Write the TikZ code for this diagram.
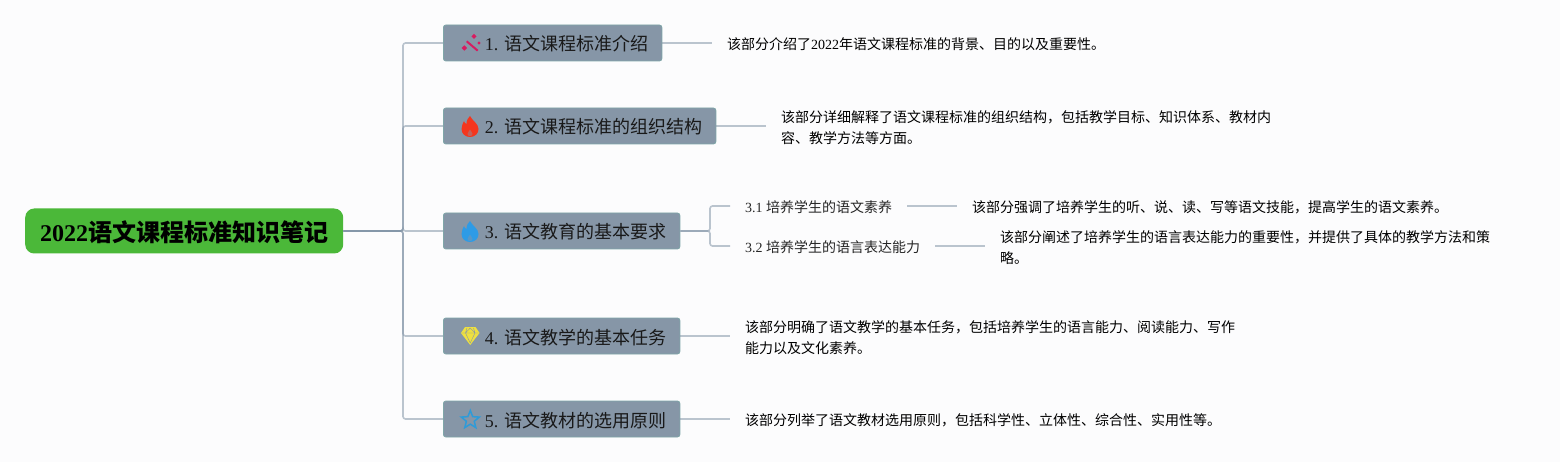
\documentclass[tikz,border=0pt]{standalone}
\usepackage{fontspec}
\setmainfont{Liberation Serif}
\newfontfamily\cjk{Noto Sans CJK SC}
\usepackage{xcolor}
\usetikzlibrary{
    positioning,
    shapes.geometric
}
\definecolor{pagecolor}{HTML}{FCFCFD}
\definecolor{rootgreen}{HTML}{4BB839}
\definecolor{topicfill}{HTML}{8696A7}
\definecolor{topicedge}{HTML}{7FA6A8}
\definecolor{linkgrey}{HTML}{8496A8}
\definecolor{wandpink}{HTML}{D81B60}
\definecolor{flamered}{HTML}{F4361E}
\definecolor{flameblue}{HTML}{2E9BE6}
\definecolor{gemyellow}{HTML}{EEE040}
\definecolor{starblue}{HTML}{2F9BD8}
\newcommand{\lat}[1]{{\rmfamily #1}}
\newcommand{\flame}[3]{
    \fill[#3] (#1, #2-10.5) .. controls (#1+2, #2-6) and (#1+8.5, #2-3) .. (#1+8.5, #2+2.5)
        .. controls (#1+8.5, #2+7) and (#1+5, #2+10.5) .. (#1, #2+10.5)
        .. controls (#1-5, #2+10.5) and (#1-8.5, #2+7) .. (#1-8.5, #2+2.5)
        .. controls (#1-8.5, #2-1) and (#1-7, #2-3) .. (#1-6, #2-5.5)
        .. controls (#1-5.5, #2-4) and (#1-5, #2-3) .. (#1-3.5, #2-2.5)
        .. controls (#1-3.5, #2-6) and (#1-2, #2-9) .. (#1, #2-10.5) -- cycle;
    \fill[topicfill, opacity=0.45] (#1, #2+3) .. controls (#1+0.8, #2+5) and (#1+2.5, #2+6) .. (#1+2.5, #2+7.5)
        .. controls (#1+2.5, #2+9) and (#1+1, #2+9.6) .. (#1, #2+9.6)
        .. controls (#1-1, #2+9.6) and (#1-2.5, #2+9) .. (#1-2.5, #2+7.5)
        .. controls (#1-2.5, #2+6) and (#1-0.8, #2+5) .. (#1, #2+3) -- cycle;
}
\begin{document}
\begin{tikzpicture}[x=1pt, y=-1pt,
    rootnode/.style={fill=rootgreen, rounded corners=9pt, minimum height=45pt, inner xsep=15pt, inner ysep=0pt,
        text height=21pt, text depth=0pt,
        font=\fontsize{24}{28}\selectfont\bfseries\cjk, text=black, anchor=west},
    topicnode/.style={fill=topicfill, draw=topicedge, line width=0.8pt, rounded corners=2.5pt, minimum height=36pt,
        inner xsep=13.5pt, inner ysep=0pt, text height=16pt, text depth=0pt,
        font=\fontsize{18}{22}\selectfont\cjk, text=black!90, anchor=west},
    subnode/.style={inner xsep=15pt, inner ysep=0pt, text height=12.5pt, text depth=0pt,
        font=\fontsize{14}{21}\selectfont\cjk, text=black!85, anchor=west},
    detailnode/.style={inner xsep=15pt, inner ysep=0pt, align=left, font=\fontsize{14}{21}\selectfont\cjk, text=black, anchor=west},
    link/.style={draw=linkgrey, line width=1.6pt, draw opacity=0.55, rounded corners=2.5pt}
]
    \fill[pagecolor] (0, 0) rectangle (1560, 462);
    \useasboundingbox (0, 0) rectangle (1560, 462);

    \node[rootnode] (root) at (25, 231) {\lat{2022}语文课程标准知识笔记};
    \node[topicnode] (t1) at (443, 43) {\hspace{28pt}\lat{1. }语文课程标准介绍};
    \node[topicnode] (t2) at (443, 126) {\hspace{28pt}\lat{2. }语文课程标准的组织结构};
    \node[topicnode] (t3) at (443, 231) {\hspace{28pt}\lat{3. }语文教育的基本要求};
    \node[topicnode] (t4) at (443, 336) {\hspace{28pt}\lat{4. }语文教学的基本任务};
    \node[topicnode] (t5) at (443, 419) {\hspace{28pt}\lat{5. }语文教材的选用原则};

    \node[subnode] (s1) at (730, 206) {\lat{3.1 }培养学生的语文素养};
    \node[subnode] (s2) at (730, 246) {\lat{3.2 }培养学生的语言表达能力};

    \node[detailnode] (d1) at (712, 44.2) {该部分介绍了\lat{2022}年语文课程标准的背景、目的以及重要性。};
    \node[detailnode] (d2) at (766, 127.2) {该部分详细解释了语文课程标准的组织结构，包括教学目标、知识体系、教材内\\容、教学方法等方面。};
    \node[detailnode] (d31) at (957, 207.2) {该部分强调了培养学生的听、说、读、写等语文技能，提高学生的语文素养。};
    \node[detailnode] (d32) at (985, 247.2) {该部分阐述了培养学生的语言表达能力的重要性，并提供了具体的教学方法和策\\略。};
    \node[detailnode] (d4) at (730, 337.2) {该部分明确了语文教学的基本任务，包括培养学生的语言能力、阅读能力、写作\\能力以及文化素养。};
    \node[detailnode] (d5) at (730, 420.2) {该部分列举了语文教材选用原则，包括科学性、立体性、综合性、实用性等。};

    \coordinate (trunk) at (403, 231);
    \coordinate (fork) at (710, 231);
    \foreach \t in {t1,t2,t3,t4,t5} {
        \draw[link] (root.east) -- (trunk) |- (\t.west);
    }
    \foreach \t/\d in {t1/d1,t2/d2,t4/d4,t5/d5,s1/d31,s2/d32} {
        \draw[link] (\t.east) -- (\t.east -| \d.west);
    }
    \foreach \s in {s1,s2} {
        \draw[link] (t3.east) -- (fork) |- (\s.west);
    }

    \draw[wandpink, line width=2pt] (466.7, 41.3) -- (477.7, 50.7);
    \node[diamond, fill=wandpink, inner sep=1.3pt] (spark1) at (474, 36.3) {};
    \node[diamond, fill=wandpink, inner sep=1.4pt] (spark2) at (464.3, 48) {};
    \node[diamond, fill=wandpink, inner sep=0.8pt] (spark3) at (479, 43) {};

    \flame{470}{126.5}{flamered}
    \flame{470}{231.5}{flameblue}

    \fill[gemyellow] (465, 327) -- (475.5, 327) -- (479.5, 333) -- (470.2, 345) -- (461, 333) -- cycle;
    \draw[topicfill, line width=0.4pt] (462, 333) -- (478.5, 333) (467, 328) -- (465.5, 333) -- (470.2, 343) -- (475, 333) -- (473.5, 328) (470.2, 328) -- (465.5, 333) (470.2, 328) -- (475, 333);

    \node[star, star points=5, star point ratio=2.3, draw=starblue, line width=1.5pt, minimum size=19pt, inner sep=0pt] (staricon) at (470.3, 420) {};
\end{tikzpicture}
\end{document}
